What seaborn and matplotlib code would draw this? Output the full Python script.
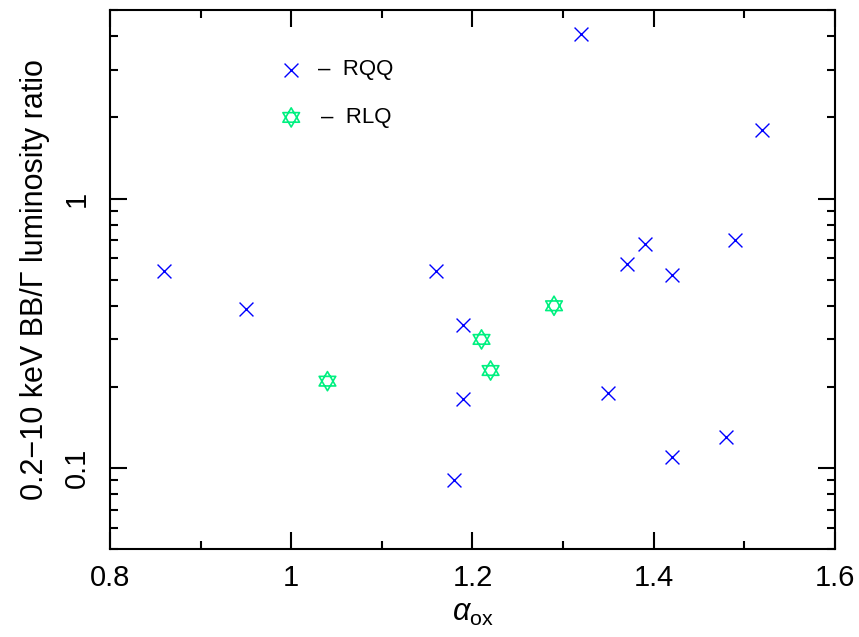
import numpy as np
import pandas as pd
import matplotlib
matplotlib.use('Agg')
import matplotlib.pyplot as plt
from matplotlib.path import Path
from matplotlib.ticker import FixedLocator, FixedFormatter, LogLocator, NullFormatter, MultipleLocator
import seaborn as sns

# alpha_ox vs 0.2-10 keV BB/Gamma luminosity ratio
rqq_aox = [0.86, 0.95, 1.16, 1.19, 1.19, 1.18, 1.32, 1.35, 1.37, 1.39, 1.42, 1.42, 1.48, 1.49, 1.52]
rqq_ratio = [0.54, 0.39, 0.54, 0.34, 0.18, 0.09, 4.07, 0.19, 0.57, 0.68, 0.52, 0.11, 0.13, 0.70, 1.80]

rlq_aox = [1.04, 1.21, 1.22, 1.29]
rlq_ratio = [0.21, 0.30, 0.23, 0.40]

sns.set_theme(style='ticks')
plt.rcParams['font.family'] = ['Liberation Sans', 'DejaVu Sans']
plt.rcParams['mathtext.fontset'] = 'custom'
plt.rcParams['mathtext.it'] = 'Liberation Sans:italic'
plt.rcParams['mathtext.rm'] = 'Liberation Sans'
plt.rcParams['text.color'] = 'black'
plt.rcParams['axes.labelcolor'] = 'black'

rqq = pd.DataFrame({'aox': rqq_aox, 'ratio': rqq_ratio})
rlq = pd.DataFrame({'aox': rlq_aox, 'ratio': rlq_ratio})

# hexagram marker: two triangles sharing the same centroid
ang_up = np.deg2rad([90, 210, 330, 90])
ang_dn = np.deg2rad([270, 30, 150, 270])
verts = list(zip(np.cos(ang_up), np.sin(ang_up))) + list(zip(np.cos(ang_dn), np.sin(ang_dn)))
codes = [Path.MOVETO, Path.LINETO, Path.LINETO, Path.CLOSEPOLY] * 2
star = Path(verts, codes)

fig = plt.figure(figsize=(8.59, 6.37), dpi=100)
ax = fig.add_axes([0.128, 0.138, 0.844, 0.846])

blue = '#0000ff'
green = '#00f080'

sns.scatterplot(data=rqq, x='aox', y='ratio', marker='x', s=100, color=blue, linewidth=1.0, ax=ax)
sns.scatterplot(data=rlq, x='aox', y='ratio', marker=star, s=190, facecolors='none',
                edgecolor=green, linewidth=1.2, ax=ax)

ax.set_yscale('log')
ax.set_xlim(0.8, 1.6)
ax.set_ylim(0.05, 5.0)

ax.xaxis.set_minor_locator(MultipleLocator(0.1))
ax.set_xticks([0.8, 1.0, 1.2, 1.4, 1.6])
ax.set_xticklabels(['0.8', '1', '1.2', '1.4', '1.6'])

ax.yaxis.set_major_locator(FixedLocator([0.1, 1]))
ax.yaxis.set_major_formatter(FixedFormatter(['0.1', '1']))
ax.yaxis.set_minor_locator(LogLocator(base=10, subs=np.arange(2, 10)))
ax.yaxis.set_minor_formatter(NullFormatter())
for lab in ax.get_yticklabels():
    lab.set_rotation(90)
    lab.set_va('center')

ax.tick_params(which='both', direction='in', top=True, right=True, width=1.5, colors='black',
               labelsize=21)
ax.tick_params(axis='x', pad=11)
ax.tick_params(axis='y', pad=14)
ax.tick_params(which='major', length=12)
ax.tick_params(which='minor', length=6)
for sp in ax.spines.values():
    sp.set_linewidth(1.5)
    sp.set_color('black')

ax.set_xlabel(r'$\alpha_{\rm ox}$', fontsize=22, labelpad=4)
ax.set_ylabel('0.2\u221210 keV BB/\u0393 luminosity ratio', fontsize=22, labelpad=9)

# hand-made key
ax.scatter([1.0], [3.0], marker='x', s=100, color=blue, linewidth=1.0)
ax.text(1.03, 3.0, '\u2013  RQQ', fontsize=16, va='center')
ax.scatter([1.0], [2.0], marker=star, s=190, facecolors='none', edgecolor=green, linewidth=1.2)
ax.text(1.033, 2.0, '\u2013  RLQ', fontsize=16, va='center')

fig.savefig('out.png', dpi=100)
